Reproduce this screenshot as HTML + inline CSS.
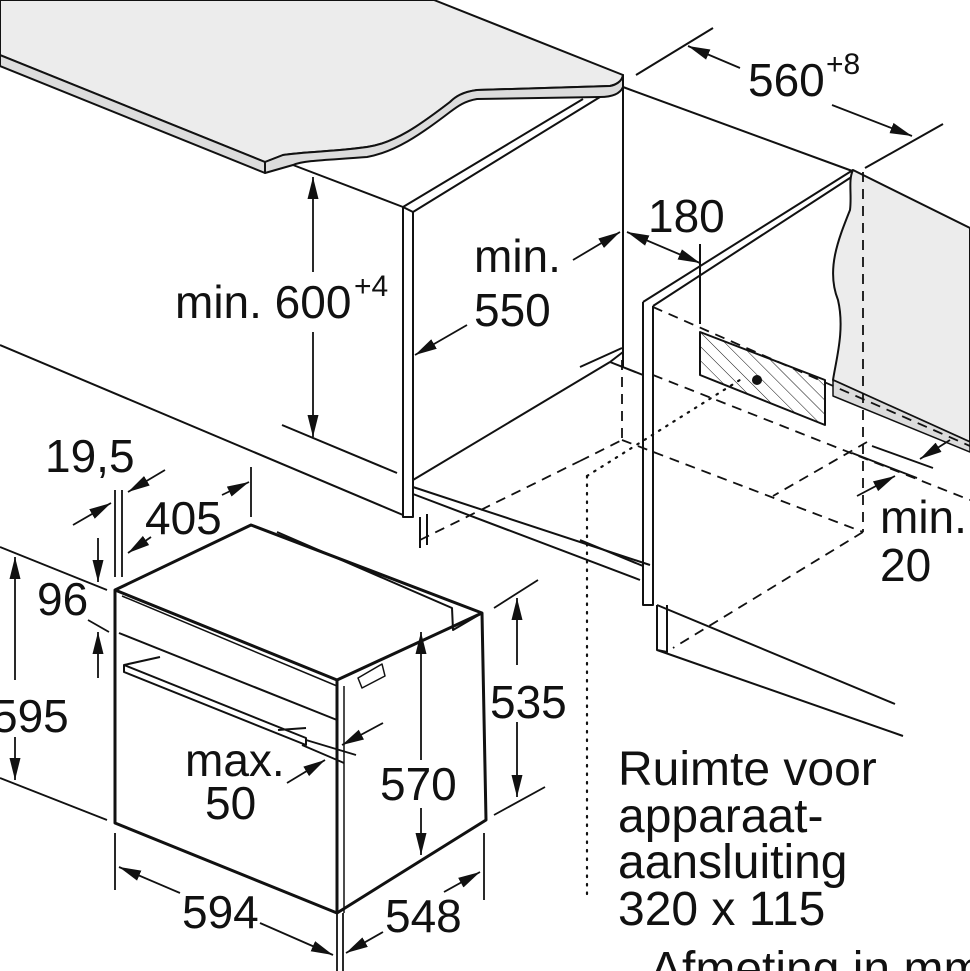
<!DOCTYPE html>
<html><head><meta charset="utf-8"><style>
html,body{margin:0;padding:0;background:#fff;}
svg{display:block}
text{font-family:"Liberation Sans",Arial,sans-serif;fill:#111;}
</style></head><body>
<svg width="970" height="971" viewBox="0 0 970 971" xmlns="http://www.w3.org/2000/svg">
<defs>
<marker id="A" viewBox="0 0 10 10" refX="10" refY="5" markerWidth="22" markerHeight="22" orient="auto-start-reverse" markerUnits="userSpaceOnUse">
<path d="M0,2.5 L10,5 L0,7.5 z" fill="#111"/></marker>
<pattern id="h" width="10" height="10" patternUnits="userSpaceOnUse" patternTransform="rotate(-45)">
<line x1="0" y1="0" x2="0" y2="10" stroke="#111" stroke-width="1"/></pattern>
</defs>
<g stroke="#111" stroke-width="2" fill="none" stroke-linejoin="round">
<path d="M0,0 L434,0 L623,75 C622,82 615,85 610,86 L477,90 C462,92 455,97 450,102 C420,125 395,143 367,147 C330,152 300,152 283,155 L265,162 L0,55 Z" fill="#ececec"/>
<path d="M0,55 L265,162 L265,173 L0,66 Z" fill="#dcdcdc"/>
<path d="M265,162 L283,155 C300,152 330,152 367,147 C395,143 420,125 450,102 C455,97 462,92 477,90 L610,86 C615,85 622,82 623,75 L623,87 C620,94 612,97 600,97 L477,99 C465,101 458,106 450,112 C420,135 395,152 367,157 C330,160 305,160 293,165 L265,173 Z" fill="#dcdcdc"/>
<line x1="293" y1="165" x2="403" y2="207"/>
<line x1="0" y1="345" x2="403" y2="515"/>
<line x1="282" y1="425" x2="397" y2="473"/>
<path d="M403,207 L403,517 L413,517 L413,212"/>
<path d="M403,207 L583,99 M413,212 L600,97 M403,207 L413,212"/>
<line x1="623" y1="75" x2="623" y2="367"/>
<line x1="413" y1="480" x2="610" y2="362"/>
<line x1="610" y1="362" x2="623" y2="352"/>
<line x1="610" y1="362" x2="643" y2="375"/>
<path d="M413,487 L650,565 M413,494 L640,580"/>
<path d="M420,517 L420,548 M427,514 L427,545"/>
<line x1="623" y1="87" x2="855" y2="172"/>
<line x1="636" y1="75" x2="713" y2="28"/>
<line x1="865" y1="168" x2="943" y2="124"/>
<path d="M643,302 L643,605 L653,605 L653,306"/>
<path d="M643,302 L853,170 M653,306 L853,176"/>
<path d="M657,605 L657,650 L667,652 L667,605 M657,605 L895,704 M657,650 L903,736"/>
<path d="M580,540 L643,566 M580,367 L622,348"/>
<path d="M853,170 L970,228 L970,442 L833,380 C836,360 845,330 838,300 C826,270 838,240 850,210 C852,195 848,180 853,170Z" fill="#ececec"/>
<path d="M833,380 L970,442 L970,452 L833,396 Z" fill="#dcdcdc" stroke-width="1.5"/>
<path d="M700,332 L825,380 L825,425 L700,375 Z" fill="url(#h)"/>
<circle cx="757" cy="380" r="4" fill="#111"/>
<line x1="700" y1="324" x2="700" y2="244"/>
</g>
<g stroke="#111" stroke-width="1.8" fill="none" stroke-dasharray="10,7">
<line x1="622" y1="360" x2="622" y2="440"/>
<line x1="622" y1="440" x2="863" y2="532"/>
<line x1="580" y1="461" x2="622" y2="440"/>
<line x1="420" y1="540" x2="580" y2="461"/>
<line x1="653" y1="307" x2="970" y2="446"/>
<line x1="653" y1="375" x2="970" y2="500"/>
<line x1="863" y1="172" x2="863" y2="532"/>
<line x1="863" y1="532" x2="673" y2="648"/>
<line x1="867" y1="442" x2="773" y2="496"/>
</g>
<g stroke="#111" stroke-width="2.2" fill="none" stroke-dasharray="1.5,7" stroke-linecap="round">
<line x1="587" y1="476" x2="587" y2="900"/>
<line x1="587" y1="476" x2="743" y2="378"/>
</g>
<g stroke="#111" stroke-width="3" fill="none" stroke-linejoin="round">
<path d="M115,590 L251,525 L482,613 L486,820 L337,913 L115,823 Z"/>
<path d="M115,590 L337,680 L337,913"/>
<path d="M337,680 L482,613"/>
<path d="M119,633 L337,720" stroke-width="2"/>
<path d="M122,596 L337,686" stroke-width="1.5"/>
<path d="M277,532 L452,608 L453,630 L482,613" stroke-width="2"/>
<path d="M344,686 L344,913" stroke-width="1.5"/>
<path d="M124,665 L306,738 L306,745 L124,672 Z" stroke-width="2"/>
<path d="M124,665 L160,657 M278,730 L306,728" stroke-width="2"/>
<path d="M358,678 L382,664 L385,676 L362,688 Z" stroke-width="1.5"/>
</g>
<g stroke="#111" stroke-width="1.8" fill="none">
<line x1="313" y1="177" x2="313" y2="272" marker-start="url(#A)"/>
<line x1="313" y1="332" x2="313" y2="437" marker-end="url(#A)"/>
<line x1="573" y1="260" x2="620" y2="232" marker-end="url(#A)"/>
<line x1="467" y1="325" x2="415" y2="355" marker-end="url(#A)"/>
<line x1="627" y1="232" x2="700" y2="263" marker-start="url(#A)" marker-end="url(#A)"/>
<line x1="740" y1="68" x2="688" y2="46" marker-end="url(#A)"/>
<line x1="832" y1="105" x2="912" y2="136" marker-end="url(#A)"/>
<line x1="15" y1="557" x2="15" y2="680" marker-start="url(#A)"/>
<line x1="15" y1="737" x2="15" y2="780" marker-end="url(#A)"/>
<line x1="0" y1="547" x2="107" y2="590"/>
<line x1="0" y1="778" x2="107" y2="820"/>
<line x1="98" y1="538" x2="98" y2="582" marker-end="url(#A)"/>
<line x1="98" y1="678" x2="98" y2="632" marker-end="url(#A)"/>
<line x1="88" y1="620" x2="109" y2="632"/>
<line x1="115" y1="490" x2="115" y2="577"/>
<line x1="122" y1="490" x2="122" y2="577"/>
<line x1="73" y1="525" x2="111" y2="503" marker-end="url(#A)"/>
<line x1="165" y1="470" x2="128" y2="492" marker-end="url(#A)"/>
<line x1="151" y1="537" x2="128" y2="553" marker-end="url(#A)"/>
<line x1="222" y1="495" x2="249" y2="482" marker-end="url(#A)"/>
<line x1="251" y1="467" x2="251" y2="517"/>
<line x1="494" y1="608" x2="538" y2="580"/>
<line x1="494" y1="815" x2="545" y2="787"/>
<line x1="517" y1="598" x2="517" y2="665" marker-start="url(#A)"/>
<line x1="517" y1="722" x2="517" y2="797" marker-end="url(#A)"/>
<line x1="421" y1="632" x2="421" y2="760" marker-start="url(#A)"/>
<line x1="421" y1="808" x2="421" y2="855" marker-end="url(#A)"/>
<line x1="115" y1="833" x2="115" y2="890"/>
<line x1="484" y1="833" x2="484" y2="900"/>
<line x1="337" y1="913" x2="337" y2="971"/>
<line x1="343" y1="913" x2="343" y2="971"/>
<line x1="119" y1="867" x2="180" y2="893" marker-start="url(#A)"/>
<line x1="260" y1="923" x2="333" y2="955" marker-end="url(#A)"/>
<line x1="346" y1="953" x2="383" y2="932" marker-start="url(#A)"/>
<line x1="444" y1="892" x2="480" y2="872" marker-end="url(#A)"/>
<line x1="287" y1="783" x2="325" y2="760" marker-end="url(#A)"/>
<line x1="383" y1="723" x2="342" y2="745" marker-end="url(#A)"/>
<line x1="306" y1="740" x2="356" y2="755"/>
<line x1="302" y1="745" x2="344" y2="763"/>
<line x1="872" y1="446" x2="933" y2="468"/>
<line x1="852" y1="453" x2="917" y2="478"/>
<line x1="950" y1="440" x2="920" y2="459" marker-end="url(#A)"/>
<line x1="857" y1="496" x2="895" y2="476" marker-end="url(#A)"/>
</g>
<g font-size="46">
<text x="175" y="318">min. 600</text><text x="354" y="296" font-size="30">+4</text>
<text x="474" y="272">min.</text>
<text x="474" y="326">550</text>
<text x="648" y="232">180</text>
<text x="748" y="96">560</text><text x="826" y="74" font-size="30">+8</text>
<text x="45" y="472">19,5</text>
<text x="145" y="534">405</text>
<text x="37" y="615">96</text>
<text x="-8" y="732">595</text>
<text x="185" y="776">max.</text>
<text x="205" y="819">50</text>
<text x="380" y="800">570</text>
<text x="490" y="718">535</text>
<text x="182" y="928">594</text>
<text x="385" y="932">548</text>
<text x="880" y="533">min.</text>
<text x="880" y="581">20</text>
</g>
<g font-size="48">
<text x="618" y="785">Ruimte voor</text>
<text x="618" y="832">apparaat-</text>
<text x="618" y="878">aansluiting</text>
<text x="618" y="925">320 x 115</text>
<text x="650" y="985">Afmeting in mm</text>
</g>
</svg>
</body></html>
